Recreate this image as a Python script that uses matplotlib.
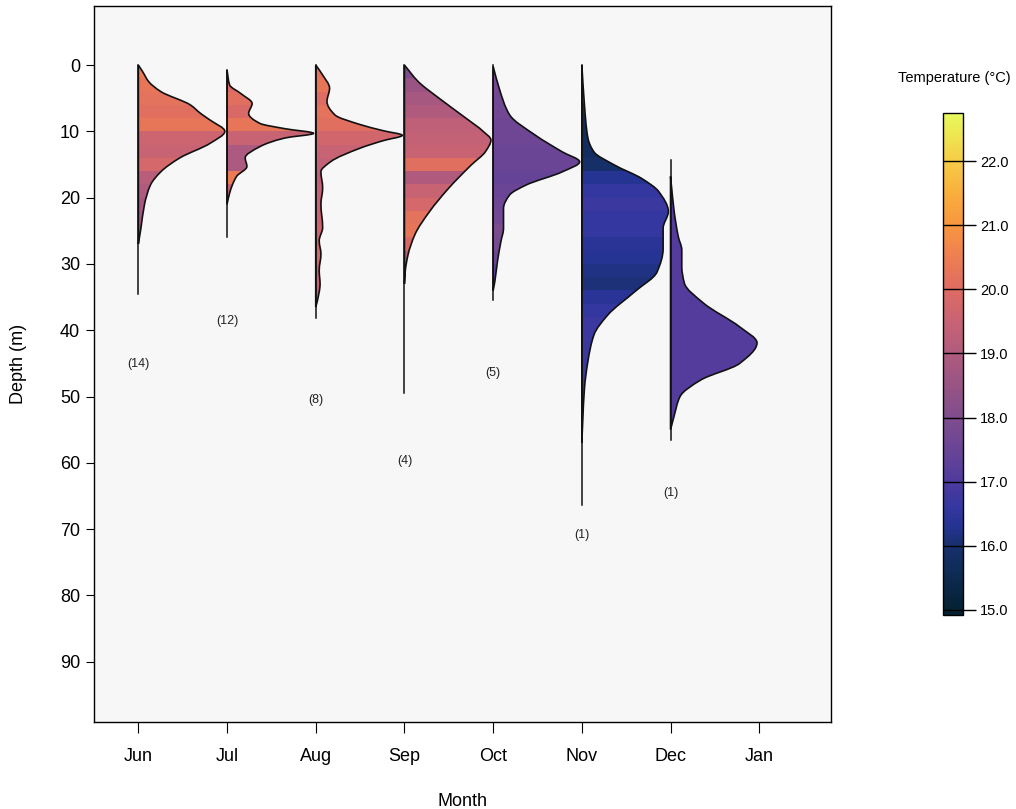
import numpy as np
import matplotlib
matplotlib.use("Agg")
import matplotlib.pyplot as plt
from matplotlib.path import Path
from matplotlib.patches import PathPatch
from matplotlib.colors import LinearSegmentedColormap, Normalize
from matplotlib.cm import ScalarMappable

plt.rcParams["font.family"] = ["Liberation Sans Narrow", "Liberation Sans", "DejaVu Sans"]

months = ["Jun", "Jul", "Aug", "Sep", "Oct", "Nov", "Dec", "Jan"]
n_tags = ["(14)", "(12)", "(8)", "(4)", "(5)", "(1)", "(1)"]
tag_depth = [45.1, 38.6, 50.5, 59.7, 46.5, 70.9, 64.6]

# depth range covered by the vertical line of each month
line_top = [0.0, 0.8, 0.0, 0.0, 0.0, 0.0, 14.3]
line_end = [34.5, 26.0, 38.2, 49.5, 35.4, 66.4, 56.5]

# density outline: knot depths (m) and relative density (peak = 1)
dens_depth = [
    [0, 1, 2.5, 4, 6, 7.3, 8.3, 10, 11.8, 14, 16.1, 18.1, 21.1, 24.6, 27],
    [0.8, 3, 4.3, 5.8, 7.3, 8.8, 9.6, 10.3, 11.0, 12.3, 14.0, 15.3, 16.8, 19.3, 21],
    [0, 1.5, 3.5, 5.5, 7.5, 9.0, 9.9, 10.6, 11.4, 12.5, 14.6, 16.1, 18.5, 21,
     24.5, 26.5, 28.5, 31, 33, 35.5, 36.5],
    [0, 2.5, 5, 8, 10, 11.3, 13, 15.1, 18.6, 22.1, 25.6, 28.7, 31, 33],
    [0.2, 3.5, 7.5, 10.6, 13.1, 14.6, 16.1, 18.1, 19.6, 21.6, 24.6, 26.6, 29.6, 32.6, 34],
    [0, 6, 11, 13.1, 15.1, 17.1, 19.1, 22.1, 24.6, 27.7, 31.2, 34.2, 37.7, 40.7,
     44.7, 48.8, 53.8, 57],
    [16.8, 21.9, 25.9, 27.9, 30.4, 32.9, 35.9, 39.5, 41.9, 45, 47.5, 50, 53, 55],
]
dens_value = [
    [0, 0.05, 0.12, 0.26, 0.60, 0.72, 0.83, 1.0, 0.83, 0.48, 0.26, 0.14, 0.07, 0.03, 0],
    [0, 0.03, 0.16, 0.29, 0.25, 0.38, 0.67, 1.0, 0.67, 0.38, 0.21, 0.23, 0.11, 0.03, 0],
    [0, 0.08, 0.16, 0.13, 0.22, 0.52, 0.78, 1.0, 0.78, 0.52, 0.17, 0.06, 0.08, 0.06,
     0.08, 0.04, 0.06, 0.04, 0.05, 0.02, 0],
    [0, 0.16, 0.40, 0.71, 0.91, 1.0, 0.94, 0.77, 0.51, 0.29, 0.12, 0.04, 0.01, 0],
    [0, 0.07, 0.19, 0.49, 0.80, 1.0, 0.80, 0.38, 0.19, 0.12, 0.12, 0.09, 0.05, 0.02, 0],
    [0, 0.03, 0.07, 0.14, 0.38, 0.69, 0.89, 1.0, 0.94, 0.94, 0.87, 0.61, 0.30, 0.14,
     0.07, 0.03, 0.01, 0],
    [0, 0.04, 0.09, 0.13, 0.13, 0.16, 0.38, 0.80, 1.0, 0.80, 0.35, 0.11, 0.04, 0],
]

# mean temperature (degC) in 2 m depth bins, starting at temp_start
temp_start = [0, 0, 0, 0, 0, 0, 16]
temperature = [
    [20.4, 20.3, 20.2, 20.1, 20.3, 19.6, 19.5, 19.8, 19.2, 19.0, 18.8, 18.7, 18.6, 18.4],
    [20.0, 19.9, 20.1, 19.9, 20.3, 19.5, 18.9, 18.9, 20.4, 19.4, 19.0],
    [20.2, 20.3, 20.0, 20.2, 20.1, 19.7, 19.5, 19.4, 19.3, 19.4, 19.5, 19.5, 19.6,
     19.7, 19.8, 19.6, 19.5, 19.4, 19.3],
    [18.0, 18.5, 18.8, 19.0, 19.3, 19.4, 19.5, 20.1, 19.0, 19.5, 19.8, 20.2, 20.3,
     19.9, 19.2, 18.5],
    [17.9, 17.8, 17.7, 17.7, 17.6, 17.6, 17.5, 17.5, 17.4, 17.5, 17.6, 17.7, 17.9,
     17.8, 17.5, 17.2, 17.0],
    [15.6, 15.6, 15.7, 15.7, 15.7, 15.8, 15.8, 15.9, 16.3, 16.6, 16.7, 16.6, 16.6,
     16.4, 16.3, 16.2, 16.1, 16.4, 16.6, 16.7, 16.7, 16.7, 16.7, 16.7, 16.7, 16.7,
     16.7, 16.7],
    [17.1] * 20,
]

t_min, t_max = 14.92, 22.75
thermal_stops = [
    (14.92, "#04202f"), (15.5, "#0d2a50"), (16.0, "#18306e"), (16.3, "#253392"),
    (16.6, "#3537a0"), (17.0, "#4e3a9e"), (17.5, "#6a4596"), (18.0, "#7f4d8d"),
    (18.5, "#985484"), (19.0, "#b05b7e"), (19.5, "#c86374"), (20.0, "#de6b64"),
    (20.5, "#ee7e52"), (21.0, "#f8953f"), (21.5, "#f9ae3c"), (22.0, "#f6cb46"),
    (22.75, "#e8fa5b"),
]
cmap = LinearSegmentedColormap.from_list(
    "thermal", [((t - t_min) / (t_max - t_min), c) for t, c in thermal_stops])
norm = Normalize(t_min, t_max)

HALF_WIDTH = 0.975


def density_path(x0, depths, dens):
    """Smooth outline (monotone cubic through the knots) closed on the baseline."""
    d = np.asarray(depths, float)
    w = np.asarray(dens, float) * HALF_WIDTH
    h = np.diff(d)
    delta = np.diff(w) / h
    m = np.zeros_like(w)
    for i in range(1, len(w) - 1):
        if delta[i - 1] * delta[i] > 0:
            a = 2 * h[i] + h[i - 1]
            b = h[i] + 2 * h[i - 1]
            m[i] = (a + b) / (a / delta[i - 1] + b / delta[i])
    m[0], m[-1] = delta[0], delta[-1]
    verts = [(x0 + w[0], d[0])]
    codes = [Path.MOVETO]
    for i in range(len(h)):
        verts += [(x0 + w[i] + m[i] * h[i] / 3, d[i] + h[i] / 3),
                  (x0 + w[i + 1] - m[i + 1] * h[i] / 3, d[i + 1] - h[i] / 3),
                  (x0 + w[i + 1], d[i + 1])]
        codes += [Path.CURVE4] * 3
    verts += [(x0, d[-1]), (x0, d[0]), (x0, d[0])]
    codes += [Path.LINETO, Path.LINETO, Path.CLOSEPOLY]
    return Path(verts, codes)


fig = plt.figure(figsize=(10.16, 8.09), dpi=100)
ax = fig.add_axes([0.0925, 0.1075, 0.7255, 0.885])
ax.set_facecolor("#f7f7f7")

for i in range(len(dens_depth)):
    patch = PathPatch(density_path(i, dens_depth[i], dens_value[i]),
                      facecolor="none", edgecolor="#111111", lw=1.2, zorder=3)
    ax.add_patch(patch)
    temps = np.asarray(temperature[i], float)
    y_edges = temp_start[i] + 2.0 * np.arange(len(temps) + 1)
    mesh = ax.pcolormesh([i, i + 1], y_edges, temps[:, None], cmap=cmap, norm=norm,
                         shading="flat", zorder=2)
    mesh.set_clip_path(patch)
    ax.plot([i, i], [line_top[i], line_end[i]], color="#111111", lw=1.1, zorder=4)
    ax.text(i, tag_depth[i], n_tags[i], ha="center", va="center", fontsize=9,
            family=["Liberation Sans", "DejaVu Sans"], color="#222222")

ax.set_xlim(-0.5, 7.81)
ax.set_ylim(99.1, -8.9)
ax.set_xticks(range(len(months)))
ax.set_xticklabels(months)
ax.set_yticks(range(0, 91, 10))
ax.tick_params(axis="x", length=8, width=0.8, pad=11, labelsize=13)
ax.tick_params(axis="y", length=6, width=0.8, pad=4, labelsize=13)
for s in ax.spines.values():
    s.set_linewidth(1.0)
ax.set_xlabel("Month", fontsize=13, labelpad=20)
ax.set_ylabel("Depth (m)", fontsize=13, labelpad=24)

cax = fig.add_axes([0.928, 0.240, 0.020, 0.620])
cb = fig.colorbar(ScalarMappable(norm=norm, cmap=cmap), cax=cax,
                  ticks=range(15, 23), format="%.1f")
for t in range(15, 23):
    cax.axhline(t, color="black", lw=1.0)
cax.tick_params(length=9, width=1.0, pad=3, labelsize=10.5)
cb.outline.set_linewidth(1.0)
for lab in cax.get_yticklabels():
    lab.set_family(["Liberation Sans", "DejaVu Sans"])
fig.text(0.939, 0.903, "Temperature (°C)", ha="center", va="center", fontsize=10.5,
         family=["Liberation Sans", "DejaVu Sans"])

fig.savefig("out.png", dpi=100)
